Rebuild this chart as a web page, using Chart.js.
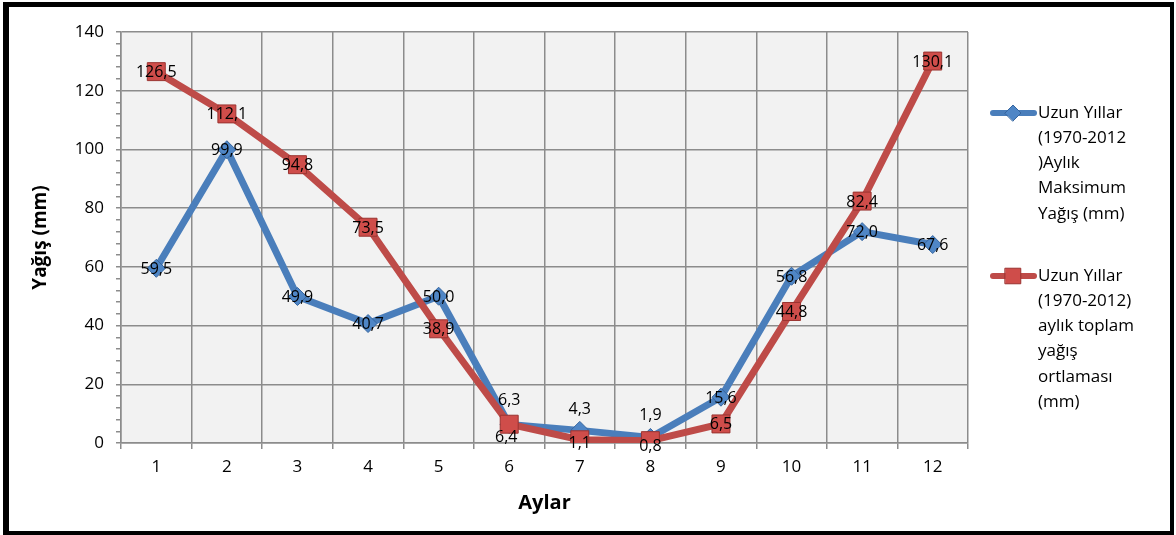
<!DOCTYPE html>
<html lang="tr">
<head>
<meta charset="utf-8">
<title>Aylık Yağış</title>
<script src="https://cdn.jsdelivr.net/npm/chart.js@4.4.1/dist/chart.umd.min.js"></script>
<style>
  html, body { margin: 0; padding: 0; background: #fff; }
  #kutu { position: relative; width: 1176px; height: 535px; overflow: hidden; }
  #grafik { position: absolute; left: 0; top: 0; }
  #cerceve {
    position: absolute; left: 3px; top: 2px; width: 1171px; height: 533px;
    box-sizing: border-box; border: solid #000; border-width: 5px 4px 4px 6px;
    pointer-events: none;
  }
</style>
</head>
<body>
<div id="kutu">
  <canvas id="grafik" width="1176" height="535"></canvas>
  <div id="cerceve"></div>
</div>
<script>
const aylar = ["1", "2", "3", "4", "5", "6", "7", "8", "9", "10", "11", "12"];
const maksimumYagis = [59.5, 99.9, 49.9, 40.7, 50.0, 6.3, 4.3, 1.9, 15.6, 56.8, 72.0, 67.6];
const ortalamaYagis = [126.5, 112.1, 94.8, 73.5, 38.9, 6.4, 1.1, 0.8, 6.5, 44.8, 82.4, 130.1];

const legendMaksimum = ["Uzun Yıllar", "(1970-2012", ")Aylık", "Maksimum", "Yağış (mm)"];
const legendOrtalama = ["Uzun Yıllar", "(1970-2012)", "aylık toplam", "yağış", "ortlaması", "(mm)"];

const yazi = '"Open Sans", "Liberation Sans", sans-serif';
const maviRenk = "#4a7ebb";
const kirmiziRenk = "#be4b48";
const izgaraRenk = "#8c8c8c";

// gri çizim alanı
const arkaPlan = {
  id: "arkaPlan",
  beforeDraw(chart) {
    const { ctx, chartArea: a } = chart;
    ctx.save();
    ctx.fillStyle = "#f2f2f2";
    ctx.fillRect(a.left, a.top, a.right - a.left, a.bottom - a.top);
    ctx.restore();
  }
};

// noktaların üstüne değer yazıları (virgüllü)
const degerEtiketleri = {
  id: "degerEtiketleri",
  afterDatasetsDraw(chart) {
    const ctx = chart.ctx;
    ctx.save();
    ctx.font = "16px " + yazi;
    ctx.fillStyle = "#000";
    ctx.textAlign = "center";
    ctx.textBaseline = "middle";
    chart.data.datasets.forEach((ds, i) => {
      const meta = chart.getDatasetMeta(i);
      meta.data.forEach((nokta, j) => {
        const k = (ds.etiketKaydir && ds.etiketKaydir[j]) || [0, 1];
        const metin = ds.data[j].toFixed(1).replace(".", ",");
        ctx.fillText(metin, nokta.x + k[0], nokta.y + k[1]);
      });
    });
    ctx.restore();
  }
};

// sağdaki çok satırlı açıklama
const aciklama = {
  id: "aciklama",
  afterDraw(chart) {
    const ctx = chart.ctx;
    const girdiler = [
      { satirlar: legendMaksimum, y: 113, ds: chart.data.datasets[0] },
      { satirlar: legendOrtalama, y: 276, ds: chart.data.datasets[1] }
    ];
    ctx.save();
    girdiler.forEach(g => {
      ctx.strokeStyle = g.ds.borderColor;
      ctx.lineWidth = 6;
      ctx.lineCap = "round";
      ctx.beginPath();
      ctx.moveTo(993, g.y);
      ctx.lineTo(1034, g.y);
      ctx.stroke();

      ctx.fillStyle = g.ds.pointBackgroundColor;
      ctx.strokeStyle = g.ds.pointBorderColor;
      ctx.lineWidth = 1;
      Chart.helpers.drawPoint(ctx, {
        pointStyle: g.ds.pointStyle,
        radius: g.ds.pointStyle === "rect" ? 11 : 8,
        rotation: 0,
        borderWidth: 1
      }, 1013, g.y);

      ctx.fillStyle = "#000";
      ctx.font = "17px " + yazi;
      ctx.textAlign = "left";
      ctx.textBaseline = "middle";
      g.satirlar.forEach((s, i) => ctx.fillText(s, 1038, g.y + i * 25.2));
    });
    ctx.restore();
  }
};

new Chart(document.getElementById("grafik"), {
  type: "line",
  data: {
    labels: aylar,
    datasets: [
      {
        label: "Uzun Yıllar (1970-2012 )Aylık Maksimum Yağış (mm)",
        data: maksimumYagis,
        borderColor: maviRenk,
        borderWidth: 7,
        pointStyle: "rectRot",
        pointRadius: 9,
        pointBackgroundColor: "#4f86c6",
        pointBorderColor: "#35659f",
        pointBorderWidth: 1,
        tension: 0,
        order: 2,
        etiketKaydir: { 5: [0, -24], 6: [0, -21], 7: [0, -22] }
      },
      {
        label: "Uzun Yıllar (1970-2012) aylık toplam yağış ortlaması (mm)",
        data: ortalamaYagis,
        borderColor: kirmiziRenk,
        borderWidth: 7,
        pointStyle: "rect",
        pointRadius: 12.7,
        pointBackgroundColor: "#cf4d4a",
        pointBorderColor: "#9a3330",
        pointBorderWidth: 1,
        tension: 0,
        order: 1,
        etiketKaydir: { 5: [-3, 13], 6: [0, 4], 7: [0, 6] }
      }
    ]
  },
  options: {
    responsive: false,
    animation: false,
    devicePixelRatio: 1,
    layout: { padding: { top: 32, right: 208, left: 29, bottom: 20 } },
    plugins: {
      legend: { display: false },
      tooltip: { enabled: false }
    },
    scales: {
      x: {
        offset: true,
        grid: { color: izgaraRenk, lineWidth: 1.5, offset: true, tickLength: 6, tickColor: izgaraRenk },
        border: { color: izgaraRenk, width: 1.5 },
        ticks: { color: "#000", font: { family: yazi, size: 17 }, padding: 8, maxRotation: 0 },
        title: {
          display: true, text: "Aylar", color: "#000",
          font: { family: yazi, size: 20, weight: "bold" }, padding: 0
        },
        afterFit(scale) { scale.height = 72; }
      },
      y: {
        min: 0,
        max: 140,
        grid: {
          color: c => (c.tick && c.tick.value % 20 === 0 ? izgaraRenk : "rgba(0,0,0,0)"),
          lineWidth: 1.5,
          tickLength: 5,
          tickColor: izgaraRenk
        },
        border: { color: izgaraRenk, width: 1.5 },
        ticks: {
          stepSize: 4,
          autoSkip: false,
          padding: 12,
          color: "#000",
          font: { family: yazi, size: 17 },
          callback: v => (v % 20 === 0 ? v : "")
        },
        title: {
          display: true, text: "Yağış (mm)", color: "#000",
          font: { family: yazi, size: 19, weight: "bold" }, padding: 0
        },
        afterFit(scale) { scale.width = 92; }
      }
    }
  },
  plugins: [arkaPlan, degerEtiketleri, aciklama]
});
</script>
</body>
</html>
